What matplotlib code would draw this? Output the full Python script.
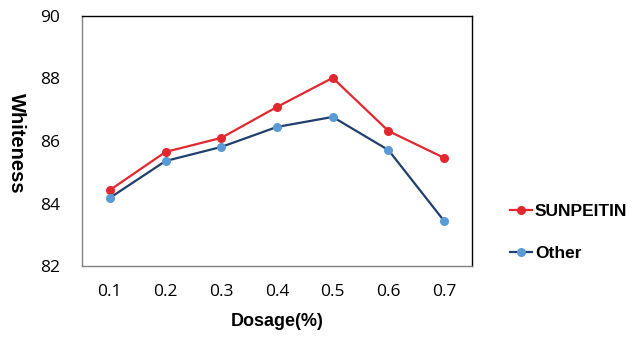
import matplotlib
matplotlib.use("Agg")
import matplotlib.pyplot as plt

dosage = ["0.1", "0.2", "0.3", "0.4", "0.5", "0.6", "0.7"]
sunpeitin = [84.43, 85.65, 86.10, 87.09, 88.02, 86.32, 85.46]
other = [84.18, 85.36, 85.81, 86.45, 86.77, 85.71, 83.44]

fig = plt.figure(figsize=(6.37, 3.39), dpi=100)
W, H = 637, 339
ax = fig.add_axes([82 / W, 1 - 266 / H, 390 / W, 250 / H])

x = [i + 0.5 for i in range(len(dosage))]
l1, = ax.plot(x, sunpeitin, color="#E0282E", lw=1.6, marker="o", ms=5.5,
              markerfacecolor="#E0282E", markeredgecolor="#E0282E", label="SUNPEITIN")
l2, = ax.plot(x, other, color="#1F3F6E", lw=1.6, marker="o", ms=5.5,
              markerfacecolor="#5B9BD5", markeredgecolor="#5B9BD5", label="Other")

ax.set_xlim(0, 7)
ax.set_ylim(82, 90)
ax.set_yticks([82, 84, 86, 88, 90])
ax.set_xticks(x)
ax.set_xticklabels(dosage)
ax.tick_params(length=0, labelsize=12.5)
ax.tick_params(axis="x", pad=13)
ax.tick_params(axis="y", pad=16)
for lab in ax.get_xticklabels() + ax.get_yticklabels():
    lab.set_family("Open Sans")
for s in ["top", "right"]:
    ax.spines[s].set_color("black")
    ax.spines[s].set_linewidth(1.0)
for s in ["left", "bottom"]:
    ax.spines[s].set_color("#808080")
    ax.spines[s].set_linewidth(1.0)

ax.set_xlabel("Dosage(%)", family="Liberation Sans", fontweight="bold", fontsize=13, labelpad=9)
fig.text(16 / W, 1 - 143 / H, "Whiteness", rotation=270, ha="center", va="center",
         family="Liberation Sans", fontweight="bold", fontsize=14.5)

fig.legend(handles=[l1, l2], loc="upper left", bbox_to_anchor=(494 / W, 1 - 188 / H),
           frameon=False, prop={"family": "Liberation Sans", "weight": "bold", "size": 12.5},
           handlelength=1.3, handletextpad=0.15, labelspacing=1.55)

fig.savefig("out.png", dpi=100)
